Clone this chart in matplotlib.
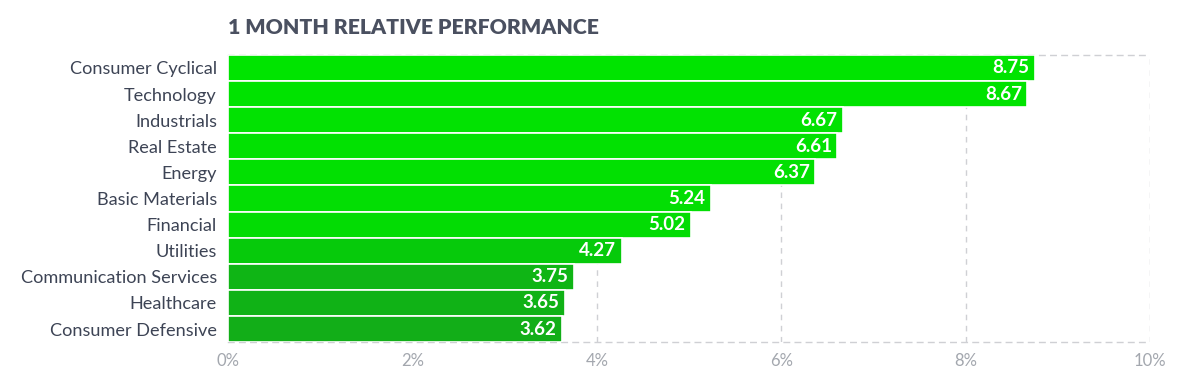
import matplotlib.pyplot as plt
from matplotlib.ticker import FuncFormatter

# Sector data, top to bottom
sectors = ['Consumer Cyclical', 'Technology', 'Industrials', 'Real Estate', 'Energy',
           'Basic Materials', 'Financial', 'Utilities', 'Communication Services',
           'Healthcare', 'Consumer Defensive']
perf = [8.75, 8.67, 6.67, 6.61, 6.37, 5.24, 5.02, 4.27, 3.75, 3.65, 3.62]
bar_colors = ['#00e400', '#00e300', '#02e202', '#02e102', '#02e002',
              '#03de04', '#03dc04', '#06ca0b', '#0fb515', '#10b216', '#12ae18']

plt.rcParams['font.family'] = ['Lato', 'DejaVu Sans']

fig = plt.figure(figsize=(12, 3.84), dpi=100)
ax = fig.add_axes([0.19, 0.109, 0.7683, 0.748])

y = list(range(len(sectors)))
ax.barh(y, perf, height=1.0, color=bar_colors, edgecolor='white', linewidth=1.2, zorder=3)
ax.set_ylim(len(sectors) - 0.5, -0.5)
ax.set_xlim(0, 10)

for i, v in enumerate(perf):
    ax.text(v - 0.06, i, f'{v:.2f}', ha='right', va='center', color='white',
            fontsize=13.5, fontweight='bold', zorder=4)

ax.set_yticks(y)
ax.set_yticklabels(sectors, fontsize=13.1, color='#3d4455')
ax.set_xticks([0, 2, 4, 6, 8, 10])
ax.xaxis.set_major_formatter(FuncFormatter(lambda v, p: f'{v:.0f}%'))
ax.tick_params(axis='x', labelsize=12, labelcolor='#a3a7ae', length=0, pad=8)
ax.tick_params(axis='y', length=0, pad=8)

ax.grid(axis='x', color='#cfd0d4', linestyle=(0, (4, 4)), linewidth=1, zorder=0)
for s in ['left', 'right']:
    ax.spines[s].set_visible(False)
for s in ['top', 'bottom']:
    ax.spines[s].set_linestyle((0, (4, 4)))
    ax.spines[s].set_color('#cfd0d4')
    ax.spines[s].set_linewidth(1)

fig.text(0.19, 0.928, '1 MONTH RELATIVE PERFORMANCE', fontsize=15.3, fontweight='heavy',
         color='#4a5060', ha='left', va='center')

fig.savefig('out.png', dpi=100)
